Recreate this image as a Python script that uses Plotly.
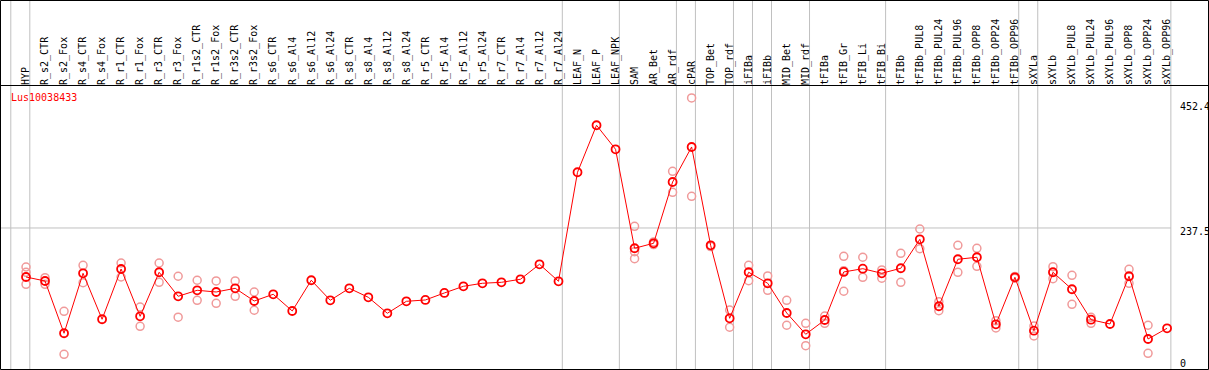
import plotly.graph_objects as go

categories = ["HYP", "R_s2_CTR", "R_s2_Fox", "R_s4_CTR", "R_s4_Fox", "R_r1_CTR", "R_r1_Fox",
              "R_r3_CTR", "R_r3_Fox", "R_r1s2_CTR", "R_r1s2_Fox", "R_r3s2_CTR", "R_r3s2_Fox",
              "R_s6_CTR", "R_s6_Al4", "R_s6_Al12", "R_s6_Al24", "R_s8_CTR", "R_s8_Al4",
              "R_s8_Al12", "R_s8_Al24", "R_r5_CTR", "R_r5_Al4", "R_r5_Al12", "R_r5_Al24",
              "R_r7_CTR", "R_r7_Al4", "R_r7_Al12", "R_r7_Al24", "LEAF_N", "LEAF_P", "LEAF_NPK",
              "SAM", "AR_Bet", "AR_rdf", "cPAR", "TOP_Bet", "TOP_rdf", "iFIBa", "iFIBb",
              "MID_Bet", "MID_rdf", "tFIBa", "tFIB_Gr", "tFIB_Li", "tFIB_Bi", "tFIBb",
              "tFIBb_PUL8", "tFIBb_PUL24", "tFIBb_PUL96", "tFIBb_OPP8", "tFIBb_OPP24",
              "tFIBb_OPP96", "sXYLa", "sXYLb", "sXYLb_PUL8", "sXYLb_PUL24", "sXYLb_PUL96",
              "sXYLb_OPP8", "sXYLb_OPP24", "sXYLb_OPP96"]

means = [156.5, 149.9, 63.5, 162.6, 86.6, 169.7, 91.5, 164.3, 124.6, 134.5, 131.7, 137.8, 116.8,
         127.9, 100.3, 151.1, 118.0, 137.8, 122.9, 96.5, 116.3, 118.5, 130.1, 141.1, 146.1,
         147.7, 152.7, 177.5, 149.4, 329.6, 407.3, 367.6, 204.0, 212.2, 313.5, 371.4, 208.9,
         88.2, 164.3, 146.1, 97.0, 61.8, 85.4, 164.8, 170.2, 162.6, 170.9, 218.8, 108.1,
         185.8, 189.1, 78.3, 156.0, 67.7, 164.3, 136.2, 85.9, 78.8, 157.7, 54.0, 71.7]

N = None
rep_a = [173.0, 155.4, 99.8, 175.8, N, 179.6, 106.9, 179.6, 157.7, 151.1, 149.9, 149.9, 131.7,
         N, N, N, N, N, N, N, N, N, N, N, N, N, N, N, N, N, N, N,
         240.3, 214.5, 331.2, 452.4, 206.8, 101.9, 175.8, 158.2, 118.0, 80.0, 92.0, 190.7,
         189.1, 168.1, 195.7, 235.8, 115.7, 208.9, 203.9, 84.3, 157.5, 75.5, 173.5, 159.3,
         89.9, N, 169.2, 76.7, N]
rep_b = [164.3, 144.4, 28.7, 147.1, N, 156.5, 75.0, 147.7, 90.0, 118.0, 113.0, 124.6, 101.5,
         N, N, N, N, N, N, N, N, N, N, N, N, N, N, N, N, N, N, N,
         198.3, 210.0, 296.5, 289.9, N, 73.4, 150.4, 134.5, 76.7, 43.0, 80.0, 167.0,
         156.0, 154.4, 147.7, 203.3, 100.8, 164.3, 174.2, 72.2, 154.5, 59.0, 153.7, 111.4,
         80.0, N, 146.1, 30.4, N]
rep_c = [144.4, N, N, N, N, N, N, N, N, N, N, N, N,
         N, N, N, N, N, N, N, N, N, N, N, N, N, N, N, N, N, N, N,
         186.8, N, N, N, N, N, N, N, N, N, N, 132.9,
         N, N, N, N, N, N, N, N, N, N, N, N,
         N, N, N, N, N]

group_sizes = [1, 28, 3, 3, 1, 2, 1, 1, 2, 4, 7, 1, 7]
y_ticks = [0, 237.5, 452.4]
title = "Lus10038433"

W, H = 1209, 370
MONO = "DejaVu Sans Mono"
x_idx = list(range(len(categories)))

rx, ry = [], []
for reps in (rep_a, rep_b, rep_c):
    for i, v in enumerate(reps):
        if v is not None:
            rx.append(i)
            ry.append(v)

fig = go.Figure()
fig.add_trace(go.Scatter(x=rx, y=ry, mode="markers",
                         marker=dict(symbol="circle-open", size=8, color="#f09a9a",
                                     line=dict(width=1.5, color="#f09a9a")),
                         hoverinfo="skip", showlegend=False))
fig.add_trace(go.Scatter(x=x_idx, y=means, mode="lines+markers",
                         line=dict(color="#ff0000", width=1),
                         marker=dict(symbol="circle-open", size=8, color="#ff0000",
                                     line=dict(width=1.8, color="#ff0000")),
                         showlegend=False))

shapes = []
# group boundary lines
b = -0.8
bounds = [b]
for g in group_sizes:
    b += g
    bounds.append(b)
for bx in bounds:
    shapes.append(dict(type="line", xref="x", yref="paper", x0=bx, x1=bx,
                       y0=1 - 369 / H, y1=1, line=dict(color="#c0c0c0", width=1), layer="below"))
# horizontal grid at middle tick
shapes.append(dict(type="line", xref="paper", yref="y", x0=1 / W, x1=(1171) / W,
                   y0=y_ticks[1], y1=y_ticks[1], line=dict(color="#c0c0c0", width=1), layer="below"))
# header separator
shapes.append(dict(type="line", xref="paper", yref="paper", x0=0, x1=1,
                   y0=1 - 85.5 / H, y1=1 - 85.5 / H, line=dict(color="black", width=1)))
# outer border
shapes.append(dict(type="rect", xref="paper", yref="paper", x0=0.5 / W, x1=1208.5 / W,
                   y0=1 - 369.5 / H, y1=1 - 0.5 / H, line=dict(color="black", width=1)))

annotations = [dict(text=title, xref="paper", yref="paper", x=9 / W, y=1 - 90 / H,
                    xanchor="left", yanchor="top", showarrow=False,
                    font=dict(family=MONO, size=10, color="#ff0000"))]
# bottom label (its value lies just below the visible range, so anchor it in paper space)
annotations.append(dict(text=f"{y_ticks[0]:g}", xref="paper", yref="paper", x=1178 / W,
                        y=1 - 363 / H, xanchor="left", yanchor="middle", showarrow=False,
                        font=dict(family=MONO, size=10, color="black")))
for t, s in zip(y_ticks[1:], [-4, -9]):
    annotations.append(dict(text=f"{t:g}", xref="paper", yref="y", x=1178 / W, y=t,
                            xanchor="left", yanchor="middle", yshift=s, showarrow=False,
                            font=dict(family=MONO, size=10, color="black")))

fig.update_layout(
    width=W, height=H, margin=dict(l=0, r=0, t=0, b=0),
    paper_bgcolor="white", plot_bgcolor="white",
    shapes=shapes, annotations=annotations,
    xaxis=dict(domain=[1 / W, 1172 / W], range=[-1.315, 60.26], side="top",
               tickmode="array", tickvals=x_idx, ticktext=categories, tickangle=-90,
               tickfont=dict(family=MONO, size=10, color="black"),
               showgrid=False, zeroline=False, showline=False, ticks=""),
    yaxis=dict(domain=[1 - 369 / H, 1 - 86 / H], range=[4.4, 472.2],
               showticklabels=False, showgrid=False, zeroline=False, showline=False),
)

fig.write_html("out.html", config={"displayModeBar": False},
               post_script="document.body.style.margin='0';")
